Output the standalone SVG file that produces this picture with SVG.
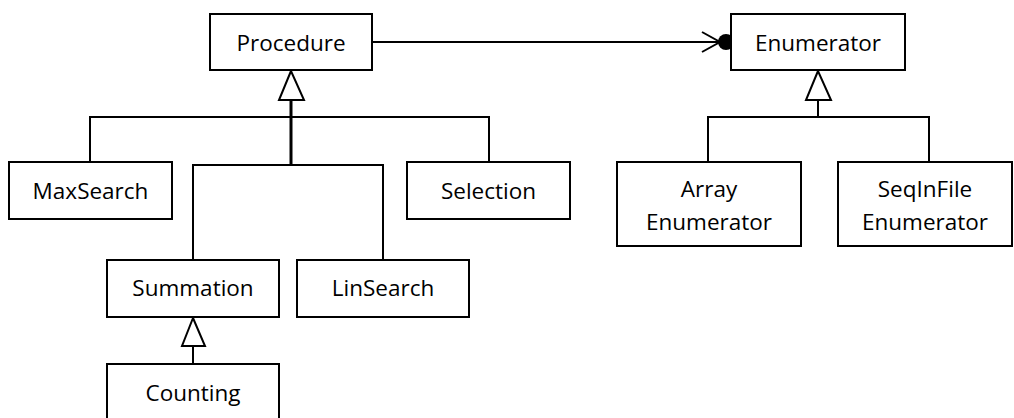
<svg xmlns="http://www.w3.org/2000/svg" width="1014" height="418" viewBox="0 0 1014 418">
<style>
.box{fill:#fff;stroke:#000;stroke-width:2}
.lbl{font-family:"Open Sans","Liberation Sans",sans-serif;font-size:22.5px;fill:#000;text-anchor:middle}
.ln{fill:none;stroke:#000;stroke-width:2}
.tri{fill:#fff;stroke:#000;stroke-width:2;stroke-linejoin:miter}
</style>
<rect width="1014" height="418" fill="#fff"/>
<g id="connectors">
  <path class="ln" d="M291 100V165" style="stroke-width:3"/>
  <path class="ln" d="M90 162V117H489V162"/>
  <path class="ln" d="M193 260V165H383V260"/>
  <polygon class="tri" points="291,71 279,100 304,100"/>
  <path class="ln" d="M193 346V364"/>
  <polygon class="tri" points="193,318 182,346 205,346"/>
  <path class="ln" d="M818 100V117"/>
  <path class="ln" d="M708 162V117H929V162"/>
  <polygon class="tri" points="818,71 806,100 831,100"/>
  <path class="ln" d="M372 42H720"/>
  <path class="ln" d="M702 32L720 42L702 52"/>
  <circle cx="726" cy="42" r="8" fill="#000"/>
</g>
<g id="Procedure"><rect class="box" x="210" y="14" width="162" height="56"/><text class="lbl" x="291" y="51">Procedure</text></g>
<g id="Enumerator"><rect class="box" x="731" y="14" width="174" height="56"/><text class="lbl" x="818" y="51">Enumerator</text></g>
<g id="MaxSearch"><rect class="box" x="9" y="162" width="163" height="57"/><text class="lbl" x="90.5" y="199">MaxSearch</text></g>
<g id="Selection"><rect class="box" x="407" y="162" width="163" height="57"/><text class="lbl" x="488.5" y="199">Selection</text></g>
<g id="ArrayEnumerator"><rect class="box" x="617" y="162" width="184" height="84"/><text class="lbl" x="709" y="197">Array</text><text class="lbl" x="709" y="230">Enumerator</text></g>
<g id="SeqInFileEnumerator"><rect class="box" x="838" y="162" width="174" height="84"/><text class="lbl" x="925" y="197">SeqInFile</text><text class="lbl" x="925" y="230">Enumerator</text></g>
<g id="Summation"><rect class="box" x="107" y="260" width="172" height="57"/><text class="lbl" x="193" y="296">Summation</text></g>
<g id="LinSearch"><rect class="box" x="297" y="260" width="172" height="57"/><text class="lbl" x="383" y="296">LinSearch</text></g>
<g id="Counting"><rect class="box" x="107" y="364" width="172" height="58"/><text class="lbl" x="193" y="401">Counting</text></g>
</svg>
